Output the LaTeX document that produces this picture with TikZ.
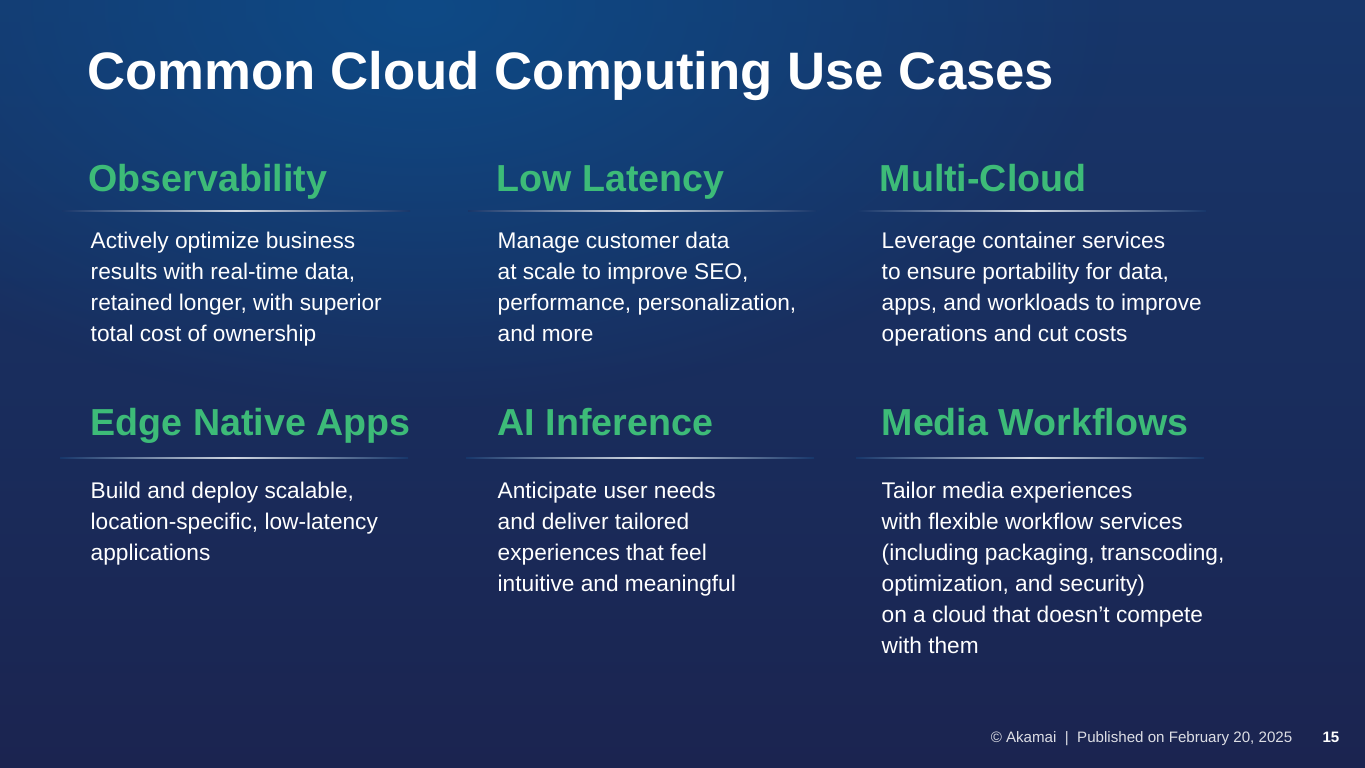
\documentclass[tikz,border=0pt]{standalone}
\usepackage{fontspec}
\setmainfont{Liberation Sans}
\usetikzlibrary{positioning,fadings}
\definecolor{bgtop}{HTML}{0E4A86}
\definecolor{bgbot}{HTML}{1B2450}
\definecolor{bgmid}{HTML}{17366A}
\definecolor{usegreen}{HTML}{3DBB78}
\tikzfading[name=glow, inner color=transparent!0, outer color=transparent!100]
\begin{document}
\begin{tikzpicture}[x=1cm,y=1cm,
  heading/.style={anchor=base west,inner sep=0pt,text=usegreen,font=\fontsize{10.7}{13}\selectfont\bfseries},
  body/.style={anchor=north west,inner sep=0pt,text=white,align=left,font=\fontsize{6.45}{8.85}\selectfont}]
\useasboundingbox (0,0) rectangle (13.65,7.68);
\shade[top color=bgmid,bottom color=bgbot] (0,0) rectangle (13.65,7.68);
\fill[bgtop,path fading=glow] (4.2,7.6) ellipse (7 and 4);

% title
\node (title) [anchor=base west,inner sep=0pt,text=white,font=\fontsize{15}{18}\selectfont\bfseries] at (0.87,6.78) {Common Cloud Computing Use Cases};

% headings
\node (obs) [heading] at (0.88,5.76) {Observability};
\node (low) [heading] at (4.96,5.76) {Low Latency};
\node (multi) [heading] at (8.79,5.76) {Multi-Cloud};
\node (edge) [heading] at (0.9,3.32) {Edge Native Apps};
\node (ai) [heading] at (4.97,3.32) {AI Inference};
\node (media) [heading] at (8.81,3.32) {Media Workflows};

% rules
\foreach \x/\y in {0.62/5.56, 4.68/5.56, 8.58/5.56, 0.60/3.09, 4.66/3.09, 8.56/3.09}
  \shade[left color=bgmid,right color=bgmid,middle color=white!80!bgmid,shading angle=90]
    (\x,\y) rectangle ++(3.48,0.012);

% bodies
\node (obsT) [body] at (0.9,5.37) {Actively optimize business\\results with real-time data,\\retained longer, with superior\\total cost of ownership};
\node (lowT) [body] at (4.97,5.37) {Manage customer data\\at scale to improve SEO,\\performance, personalization,\\and more};
\node (multiT) [body] at (8.81,5.37) {Leverage container services\\to ensure portability for data,\\apps, and workloads to improve\\operations and cut costs};
\node (edgeT) [body] at (0.9,2.87) {Build and deploy scalable,\\location-specific, low-latency\\applications};
\node (aiT) [body] at (4.97,2.87) {Anticipate user needs\\and deliver tailored\\experiences that feel\\intuitive and meaningful};
\node (mediaT) [body] at (8.81,2.87) {Tailor media experiences\\with flexible workflow services\\(including packaging, transcoding,\\optimization, and security)\\on a cloud that doesn’t compete\\with them};

% footer
\node (foot) [anchor=base east,inner sep=0pt,text=white!85!bgbot,font=\fontsize{4.3}{5}\selectfont] at (12.93,0.25) {© Akamai \ | \ Published on February 20, 2025};
\node (page) [anchor=base east,inner sep=0pt,text=white,font=\fontsize{4.3}{5}\selectfont\bfseries] at (13.4,0.25) {15};
\end{tikzpicture}
\end{document}
